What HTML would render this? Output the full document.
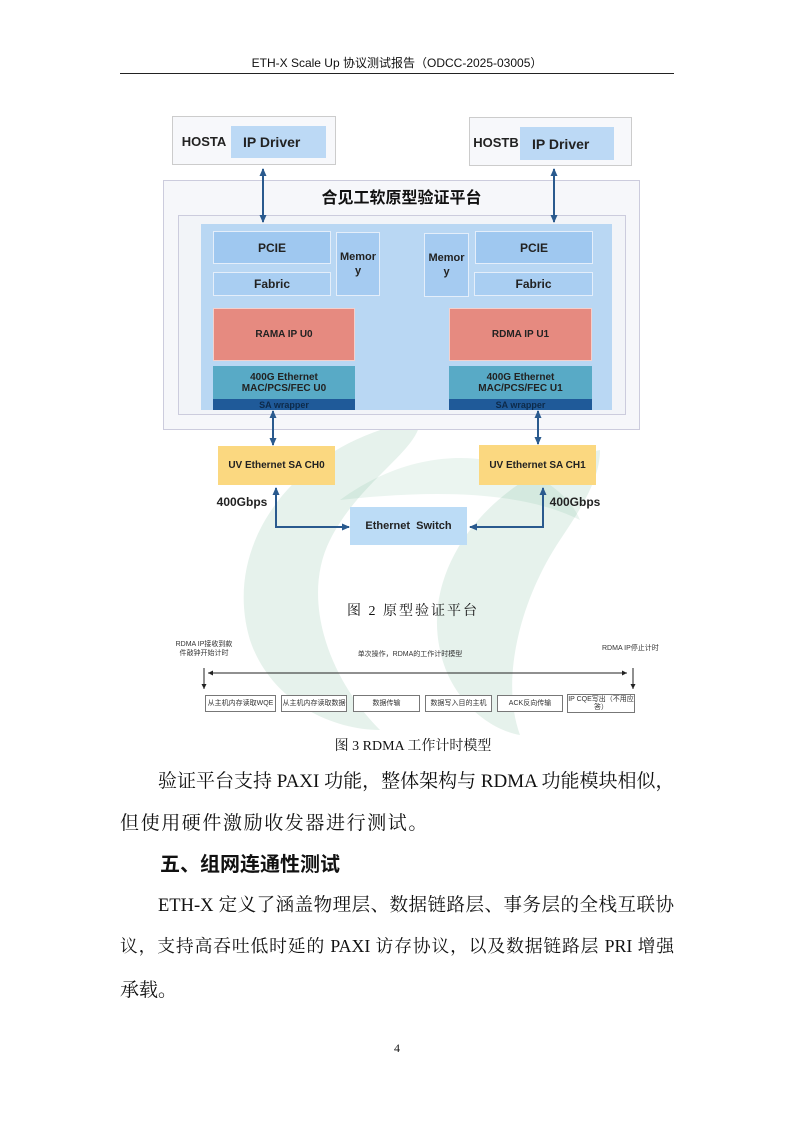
<!DOCTYPE html>
<html><head><meta charset="utf-8">
<style>
*{margin:0;padding:0;box-sizing:border-box}
body{width:794px;height:1123px;position:relative;background:#fff;overflow:hidden;font-family:"Liberation Serif","Noto Serif CJK SC",serif;color:#111}
.a{position:absolute}
.b{position:absolute;display:flex;align-items:center;justify-content:center;text-align:center;font-family:"Liberation Sans","Noto Sans CJK SC",sans-serif;font-weight:bold;color:#222}
.t{position:absolute;left:120px;width:554px;font-size:19px;text-align:justify;text-align-last:justify;white-space:nowrap}
.tb{position:absolute;display:flex;align-items:center;justify-content:center;border:1px solid #777;background:#fff;font-family:"Liberation Sans","Noto Sans CJK SC",sans-serif;font-size:7px;color:#333;text-align:center;line-height:8px}
</style></head><body>
<div class="a" style="left:120px;top:54px;width:554px;text-align:center;font-family:'Liberation Sans','Noto Sans CJK SC',sans-serif;font-size:12px">ETH-X Scale Up 协议测试报告（ODCC-2025-03005）</div>
<div class="a" style="left:120px;top:73px;width:554px;height:1px;background:#222"></div>

<svg class="a" style="left:0;top:0" width="794" height="1123">
<path d="M420 420 C300 440 220 540 250 640 C270 700 330 730 380 730 C330 680 300 600 330 540 C360 480 420 450 420 420Z" fill="#3f9a6a" opacity="0.13"/>
<path d="M600 450 C500 470 420 560 440 650 C450 700 490 730 520 735 C500 680 520 600 560 540 C580 510 600 480 600 450Z" fill="#3f9a6a" opacity="0.13"/>
<path d="M340 500 C450 420 560 470 580 520 C520 490 430 490 340 500Z" fill="#3f9a6a" opacity="0.1"/>
</svg>

<div class="a" style="left:172px;top:116px;width:164px;height:49px;border:1px solid #ccc;background:#f7f8fb"></div>
<div class="b" style="left:176px;top:126px;width:56px;height:30px;font-size:13px">HOSTA</div>
<div class="b" style="left:231px;top:126px;width:95px;height:32px;background:#bcd9f5;font-size:14px;justify-content:flex-start;padding-left:12px">IP Driver</div>
<div class="a" style="left:469px;top:117px;width:163px;height:49px;border:1px solid #ccc;background:#f7f8fb"></div>
<div class="b" style="left:470px;top:127px;width:52px;height:30px;font-size:13px">HOSTB</div>
<div class="b" style="left:520px;top:127px;width:94px;height:33px;background:#bcd9f5;font-size:14px;justify-content:flex-start;padding-left:12px">IP Driver</div>

<div class="a" style="left:163px;top:180px;width:477px;height:250px;border:1px solid #ccd;background:#f6f7fa"></div>
<div class="b" style="left:163px;top:184px;width:477px;height:24px;font-size:16px;color:#111">合见工软原型验证平台</div>
<div class="a" style="left:178px;top:215px;width:448px;height:200px;border:1px solid #ccd;background:#f2f4f8"></div>
<div class="a" style="left:201px;top:224px;width:411px;height:186px;background:#b9d7f3"></div>
<div class="b" style="left:213px;top:231px;width:118px;height:33px;background:#9fc8f0;border:1px solid #e4eefa;font-size:12px">PCIE</div>
<div class="b" style="left:213px;top:272px;width:118px;height:24px;background:#a9cef2;border:1px solid #e4eefa;font-size:12px">Fabric</div>
<div class="b" style="left:336px;top:232px;width:44px;height:64px;background:#a5cbf1;border:1px solid #e4eefa;font-size:11px;line-height:14px">Memor<br>y</div>
<div class="b" style="left:424px;top:233px;width:45px;height:64px;background:#a5cbf1;border:1px solid #e4eefa;font-size:11px;line-height:14px">Memor<br>y</div>
<div class="b" style="left:475px;top:231px;width:118px;height:33px;background:#9fc8f0;border:1px solid #e4eefa;font-size:12px">PCIE</div>
<div class="b" style="left:474px;top:272px;width:119px;height:24px;background:#a9cef2;border:1px solid #e4eefa;font-size:12px">Fabric</div>
<div class="b" style="left:213px;top:308px;width:142px;height:53px;background:#e68a80;border:1px solid #f4d0cc;font-size:10px">RAMA IP U0</div>
<div class="b" style="left:449px;top:308px;width:143px;height:53px;background:#e68a80;border:1px solid #f4d0cc;font-size:10px">RDMA IP U1</div>
<div class="b" style="left:213px;top:366px;width:142px;height:33px;background:#58aac6;font-size:10px;line-height:11px">400G Ethernet<br>MAC/PCS/FEC U0</div>
<div class="b" style="left:449px;top:366px;width:143px;height:33px;background:#58aac6;font-size:10px;line-height:11px">400G Ethernet<br>MAC/PCS/FEC U1</div>
<div class="b" style="left:213px;top:399px;width:142px;height:11px;background:#1f5a99;font-size:9px;color:#0d2a4a">SA wrapper</div>
<div class="b" style="left:449px;top:399px;width:143px;height:11px;background:#1f5a99;font-size:9px;color:#0d2a4a">SA wrapper</div>

<div class="b" style="left:218px;top:446px;width:117px;height:39px;background:#fbd880;font-size:10px">UV Ethernet SA CH0</div>
<div class="b" style="left:479px;top:445px;width:117px;height:40px;background:#fbd880;font-size:10px">UV Ethernet SA CH1</div>
<div class="b" style="left:212px;top:494px;width:60px;height:16px;font-size:12px">400Gbps</div>
<div class="b" style="left:545px;top:494px;width:60px;height:16px;font-size:12px">400Gbps</div>
<div class="b" style="left:350px;top:507px;width:117px;height:38px;background:#bcdcf6;font-size:11px">Ethernet&nbsp; Switch</div>

<svg class="a" style="left:0;top:0" width="794" height="1123">
<defs><marker id="m" markerUnits="userSpaceOnUse" markerWidth="8" markerHeight="8" refX="7" refY="4" orient="auto-start-reverse"><path d="M0,0.5 L8,4 L0,7.5 Z" fill="#2a5a8e"/></marker>
<marker id="k" markerUnits="userSpaceOnUse" markerWidth="5" markerHeight="5" refX="5" refY="2.5" orient="auto-start-reverse"><path d="M0,0 L5,2.5 L0,5 Z" fill="#222"/></marker></defs>
<g stroke="#2a5a8e" stroke-width="2" fill="none">
<line x1="263" y1="222" x2="263" y2="169" marker-end="url(#m)" marker-start="url(#m)"/>
<line x1="554" y1="222" x2="554" y2="169" marker-end="url(#m)" marker-start="url(#m)"/>
<line x1="273" y1="411" x2="273" y2="445" marker-end="url(#m)" marker-start="url(#m)"/>
<line x1="538" y1="411" x2="538" y2="444" marker-end="url(#m)" marker-start="url(#m)"/>
<polyline points="276,488 276,527 349,527" marker-end="url(#m)" marker-start="url(#m)"/>
<polyline points="543,488 543,527 470,527" marker-end="url(#m)" marker-start="url(#m)"/>
</g>
<g stroke="#222" stroke-width="1" fill="none">
<line x1="208" y1="673" x2="627" y2="673" marker-end="url(#k)" marker-start="url(#k)"/>
<line x1="204" y1="668" x2="204" y2="689" marker-end="url(#k)"/>
<line x1="633" y1="668" x2="633" y2="689" marker-end="url(#k)"/>
</g>
</svg>

<div class="a" style="left:300px;top:600px;width:226px;text-align:center;font-size:14px;letter-spacing:2px">图 2 原型验证平台</div>

<div class="a" style="left:172px;top:640px;width:64px;text-align:center;font-family:'Liberation Sans','Noto Sans CJK SC',sans-serif;font-size:7px;line-height:9px;color:#333">RDMA IP接收到款<br>件敲钟开始计时</div>
<div class="a" style="left:340px;top:649px;width:140px;text-align:center;font-family:'Liberation Sans','Noto Sans CJK SC',sans-serif;font-size:7px;color:#333">单次操作，RDMA的工作计时模型</div>
<div class="a" style="left:602px;top:643px;width:70px;font-family:'Liberation Sans','Noto Sans CJK SC',sans-serif;font-size:7px;color:#333">RDMA IP停止计时</div>
<div class="tb" style="left:205px;top:695px;width:71px;height:17px">从主机内存读取WQE</div>
<div class="tb" style="left:281px;top:695px;width:66px;height:17px">从主机内存读取数据</div>
<div class="tb" style="left:353px;top:695px;width:67px;height:17px">数据传输</div>
<div class="tb" style="left:425px;top:695px;width:67px;height:17px">数据写入目的主机</div>
<div class="tb" style="left:497px;top:695px;width:66px;height:17px">ACK反向传输</div>
<div class="tb" style="left:567px;top:694px;width:68px;height:19px">IP CQE写出（不用应答）</div>

<div class="a" style="left:300px;top:735px;width:226px;text-align:center;font-size:14px">图 3 RDMA 工作计时模型</div>

<div class="t" style="left:158px;width:516px;top:766px">验证平台支持 PAXI 功能，整体架构与 RDMA 功能模块相似，</div>
<div class="a" style="left:120px;top:808px;font-size:19px;letter-spacing:1.6px">但使用硬件激励收发器进行测试。</div>
<div class="a" style="left:160px;top:848px;font-size:20px;font-weight:bold;font-family:'Liberation Sans','Noto Sans CJK SC',sans-serif">五、组网连通性测试</div>
<div class="t" style="left:158px;width:516px;top:891px;font-size:18.5px">ETH-X 定义了涵盖物理层、数据链路层、事务层的全栈互联协</div>
<div class="t" style="top:933px;font-size:17.8px">议，支持高吞吐低时延的 PAXI 访存协议，以及数据链路层 PRI 增强</div>
<div class="a" style="left:120px;top:975px;font-size:19px">承载。</div>
<div class="a" style="left:394px;top:1041px;font-size:12px">4</div>
</body></html>
